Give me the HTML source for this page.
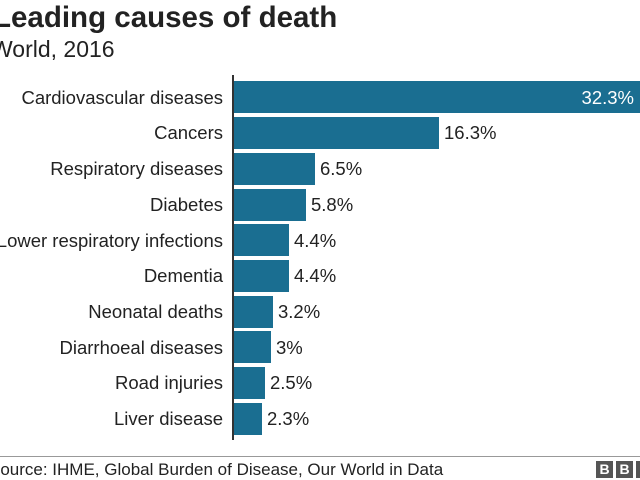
<!DOCTYPE html>
<html><head><style>
body{margin:0;width:640px;height:480px;overflow:hidden;background:#fff;font-family:"Liberation Sans",sans-serif;color:#222;position:relative}
.a{position:absolute;white-space:nowrap}
.t{left:-7px;top:1px;font-size:29.5px;font-weight:bold}
.s{left:-9px;top:36px;font-size:23px}
.l{right:417px;font-size:18.5px;line-height:20px}
.b{position:absolute;left:234px;height:32px;background:#1a6e91}
.v{font-size:18.5px;line-height:20px}
</style></head><body>
<div class="a t">Leading causes of death</div>
<div class="a s">World, 2016</div>
<div class="a" style="left:232px;top:75px;width:2px;height:365px;background:#333"></div>
<div class="b" style="top:81px;width:406px"></div><div class="a v" style="right:6px;top:88px;color:#fff">32.3%</div>
<div class="a l" style="top:88px">Cardiovascular diseases</div>
<div class="b" style="top:117px;width:205px"></div><div class="a v" style="left:444px;top:123px">16.3%</div>
<div class="a l" style="top:123px">Cancers</div>
<div class="b" style="top:153px;width:81px"></div><div class="a v" style="left:320px;top:159px">6.5%</div>
<div class="a l" style="top:159px">Respiratory diseases</div>
<div class="b" style="top:189px;width:72px"></div><div class="a v" style="left:311px;top:195px">5.8%</div>
<div class="a l" style="top:195px">Diabetes</div>
<div class="b" style="top:224px;width:55px"></div><div class="a v" style="left:294px;top:231px">4.4%</div>
<div class="a l" style="top:231px">Lower respiratory infections</div>
<div class="b" style="top:260px;width:55px"></div><div class="a v" style="left:294px;top:266px">4.4%</div>
<div class="a l" style="top:266px">Dementia</div>
<div class="b" style="top:296px;width:39px"></div><div class="a v" style="left:278px;top:302px">3.2%</div>
<div class="a l" style="top:302px">Neonatal deaths</div>
<div class="b" style="top:331px;width:37px"></div><div class="a v" style="left:276px;top:338px">3%</div>
<div class="a l" style="top:338px">Diarrhoeal diseases</div>
<div class="b" style="top:367px;width:31px"></div><div class="a v" style="left:270px;top:373px">2.5%</div>
<div class="a l" style="top:373px">Road injuries</div>
<div class="b" style="top:403px;width:28px"></div><div class="a v" style="left:267px;top:409px">2.3%</div>
<div class="a l" style="top:409px">Liver disease</div>
<div class="a" style="left:0;top:456px;width:640px;height:1px;background:#999"></div>
<div class="a" style="left:-11px;top:460px;font-size:17px">Source: IHME, Global Burden of Disease, Our World in Data</div>
<div class="a" style="left:596px;top:461px;width:17px;height:17px;background:#555;color:#fff;font-size:14px;font-weight:bold;text-align:center;line-height:17px">B</div>
<div class="a" style="left:616px;top:461px;width:17px;height:17px;background:#555;color:#fff;font-size:14px;font-weight:bold;text-align:center;line-height:17px">B</div>
<div class="a" style="left:636px;top:461px;width:17px;height:17px;background:#555"></div>
</body></html>
